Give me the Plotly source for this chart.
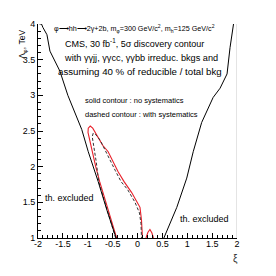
import plotly.graph_objects as go

# Theoretical exclusion boundaries (xi, Lambda_phi [TeV])
left_bound_xi = [-1.97, -1.93, -1.90, -1.82, -1.76, -1.66, -1.56, -1.40, -1.26, -1.12, -0.99, -0.85, -0.79, -0.61, -0.45, -0.43]
left_bound_lam = [4.0, 4.0, 3.95, 3.85, 3.62, 3.48, 3.34, 3.0, 2.75, 2.52, 2.21, 1.93, 1.79, 1.38, 1.07, 1.0]
right_bound_xi = [1.93, 1.86, 1.80, 1.66, 1.52, 1.34, 1.29, 1.12, 0.99, 0.79, 0.55, 0.53]
right_bound_lam = [4.0, 3.67, 3.30, 3.10, 2.97, 2.71, 2.62, 2.21, 1.84, 1.43, 1.02, 1.0]

# 5 sigma discovery contour, no systematics (solid red)
red_xi = [-0.42, -0.59, -0.76, -0.84, -0.91, -0.96, -0.995, -0.99, -0.95, -0.90, -0.80, -0.70, -0.59, -0.49, -0.39, -0.27, -0.18, -0.12, -0.03, 0.05, 0.08, 0.10, 0.10]
red_lam = [1.0, 1.38, 1.79, 2.0, 2.21, 2.38, 2.48, 2.54, 2.57, 2.54, 2.42, 2.30, 2.21, 2.07, 1.93, 1.79, 1.70, 1.64, 1.53, 1.43, 1.25, 1.07, 1.0]
red_small_xi = [0.17, 0.21, 0.25, 0.29, 0.32]
red_small_lam = [1.0, 1.08, 1.12, 1.07, 1.0]

# 5 sigma discovery contour, with systematics (dashed black)
dash_xi = [-0.44, -0.60, -0.78, -0.83, -0.88, -0.91, -0.89, -0.84, -0.75, -0.62, -0.45, -0.33, -0.20, -0.05, 0.04, 0.07, 0.08]
dash_lam = [1.0, 1.38, 1.79, 2.07, 2.30, 2.42, 2.47, 2.45, 2.37, 2.18, 1.95, 1.79, 1.68, 1.50, 1.35, 1.20, 1.0]

x_ticks = [-2, -1.5, -1, -0.5, 0, 0.5, 1, 1.5, 2]
x_ticklabels = ["-2", "-1.5", "-1", "-0.5", "0", "0.5", "1", "1.5", "2"]
y_ticks = [1, 1.5, 2, 2.5, 3, 3.5, 4]
y_ticklabels = ["1", "1.5", "2", "2.5", "3", "3.5", "4"]

FONT = "Liberation Sans, Arial, sans-serif"

fig = go.Figure()
fig.add_trace(go.Scatter(x=red_xi, y=red_lam, mode="lines",
                         line=dict(color="#e8202a", width=1.1)))
fig.add_trace(go.Scatter(x=red_small_xi, y=red_small_lam, mode="lines",
                         line=dict(color="#e8202a", width=1.1)))
fig.add_trace(go.Scatter(x=dash_xi, y=dash_lam, mode="lines",
                         line=dict(color="#333333", width=1, dash="3px,2px")))
fig.add_trace(go.Scatter(x=left_bound_xi, y=left_bound_lam, mode="lines",
                         line=dict(color="black", width=1)))
fig.add_trace(go.Scatter(x=right_bound_xi, y=right_bound_lam, mode="lines",
                         line=dict(color="black", width=1)))

texts = [
    (-1.72, 3.93, "φ⟶hh⟶2γ+2b, m<sub>φ</sub>=300 GeV/c<sup>2</sup>, m<sub>h</sub>=125 GeV/c<sup>2</sup>", 7.2),
    (-1.50, 3.74, "CMS, 30 fb<sup>-1</sup>, 5σ discovery contour", 9),
    (-1.52, 3.53, "with γγjj, γγcc, γγbb irreduc. bkgs and", 9.2),
    (-1.64, 3.33, "assuming 40 % of reducible / total bkg", 9.7),
    (-1.10, 2.93, "solid contour : no systematics", 7.5),
    (-1.10, 2.73, "dashed contour : with systematics", 7.5),
    (-1.90, 1.56, "th. excluded", 9),
    (0.81, 1.26, "th. excluded", 9),
]
for x, y, t, s in texts:
    fig.add_annotation(x=x, y=y, xref="x", yref="y", text=t, showarrow=False,
                       xanchor="left", yanchor="middle",
                       font=dict(family=FONT, size=s, color="black"))

fig.add_annotation(x=0.99, y=-0.10, xref="paper", yref="paper", text="ξ",
                   showarrow=False, xanchor="center", yanchor="middle",
                   font=dict(family=FONT, size=10, color="#333"))
fig.add_annotation(x=-0.075, y=0.98, xref="paper", yref="paper",
                   text="Λ<sub>φ</sub>, TeV", textangle=-90, showarrow=False,
                   xanchor="center", yanchor="top",
                   font=dict(family=FONT, size=8.5, color="black"))

fig.add_shape(type="line", xref="x", yref="y", x0=2, x1=2, y0=1, y1=4,
              line=dict(color="#c8c8c8", width=1))

# page body has an 8px default margin: compensate so the plot area lands at
# x 38..237, y 19..238 in the 276x276 window
fig.update_layout(
    width=268, height=268,
    margin=dict(l=30, r=39, t=11, b=38),
    paper_bgcolor="white", plot_bgcolor="white",
    showlegend=False,
    font=dict(family=FONT, size=9, color="black"),
    xaxis=dict(range=[-2, 2], tickvals=x_ticks, ticktext=x_ticklabels,
               ticks="inside", ticklen=5, tickcolor="black",
               minor=dict(ticks="inside", ticklen=3, dtick=0.1, tickcolor="black"),
               showline=True, linecolor="black", linewidth=1,
               showgrid=False, zeroline=False, fixedrange=True,
               ticklabelstandoff=-3,
               tickfont=dict(family=FONT, size=9, color="black")),
    yaxis=dict(range=[1, 4], tickvals=y_ticks, ticktext=y_ticklabels,
               ticks="inside", ticklen=5, tickcolor="black",
               minor=dict(ticks="inside", ticklen=3, dtick=0.1, tickcolor="black"),
               showline=True, linecolor="black", linewidth=1,
               showgrid=False, zeroline=False, fixedrange=True,
               tickfont=dict(family=FONT, size=9, color="black")),
)

fig.write_html("out.html")
